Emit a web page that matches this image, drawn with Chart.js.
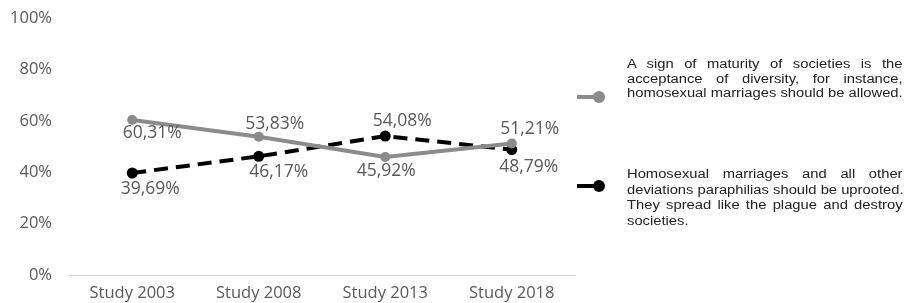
<!DOCTYPE html>
<html>
<head>
<meta charset="utf-8">
<script src="https://cdn.jsdelivr.net/npm/chart.js@4.4.1/dist/chart.umd.min.js"></script>
<style>
  html, body { margin: 0; padding: 0; background: #fff; }
  #wrap { position: relative; width: 908px; height: 303px; }
  #chart { position: absolute; left: 0; top: 0; }
  .legend { position: absolute; left: 627px; width: 224px; transform: scaleX(1.23); transform-origin: 0 0;
            font-family: "Liberation Sans", Arial, sans-serif; font-size: 12px; line-height: 15px; color: #222; }
  .legend div { text-align: justify; text-align-last: justify; white-space: nowrap; }
  .legend div.last { text-align-last: left; }
  .mk .ln { position: absolute; left: 577px; width: 22px; height: 4px; }
  .mk .dot { position: absolute; width: 12px; height: 12px; border-radius: 50%; }
</style>
</head>
<body>
<div id="wrap">
  <canvas id="chart" width="908" height="303"></canvas>
</div>
<script>
// data
const studies = ['Study 2003', 'Study 2008', 'Study 2013', 'Study 2018'];
const acceptDiversity = [60.31, 53.83, 45.92, 51.21];
const uprootParaphilias = [39.69, 46.17, 54.08, 48.79];
const yTicks = [0, 20, 40, 60, 80, 100];

const legendAccept = ['A sign of maturity of societies is the', 'acceptance of diversity, for instance,', 'homosexual marriages should be allowed.'];
const legendUproot = ['Homosexual marriages and all other', 'deviations paraphilias should be uprooted.', 'They spread like the plague and destroy', 'societies.'];

// where each value label sits relative to its point (dx, dy in px)
const acceptLabelPos = [[20, 13], [16, -13], [1, 14], [18, -14]];
const uprootLabelPos = [[18, 16], [20, 16], [17, -15], [17, 17]];

const GRAY = '#8b8b8b';
const TEXT = '#595959';
const FONT = '"Open Sans", sans-serif';

function fmt(v) {
  return v.toFixed(2).replace('.', ',') + '%';
}

const valueLabels = {
  id: 'valueLabels',
  afterDatasetsDraw(chart) {
    const ctx = chart.ctx;
    ctx.save();
    ctx.font = '17.5px ' + FONT;
    ctx.fillStyle = TEXT;
    ctx.textAlign = 'center';
    ctx.textBaseline = 'middle';
    chart.data.datasets.forEach((ds, i) => {
      const meta = chart.getDatasetMeta(i);
      meta.data.forEach((pt, j) => {
        const off = ds.labelPos[j];
        ctx.fillText(fmt(ds.data[j]), pt.x + off[0], pt.y + off[1]);
      });
    });
    ctx.restore();
  }
};

const ctx = document.getElementById('chart').getContext('2d');
const myChart = new Chart(ctx, {
  type: 'line',
  data: {
    labels: studies,
    datasets: [{
      label: legendAccept.join(' '),
      data: acceptDiversity,
      labelPos: acceptLabelPos,
      borderColor: GRAY,
      backgroundColor: GRAY,
      borderWidth: 4,
      pointRadius: 5,
      pointBorderWidth: 0,
      fill: false,
      tension: 0
    }, {
      label: legendUproot.join(' '),
      data: uprootParaphilias,
      labelPos: uprootLabelPos,
      borderColor: '#000',
      backgroundColor: '#000',
      borderWidth: 4,
      borderDash: [14, 8],
      pointRadius: 5.5,
      pointBorderWidth: 0,
      fill: false,
      tension: 0
    }]
  },
  options: {
    responsive: false,
    animation: false,
    layout: { padding: { left: 0, right: 333, top: 18, bottom: 0 } },
    plugins: {
      legend: { display: false },
      tooltip: { enabled: false }
    },
    scales: {
      x: {
        offset: true,
        grid: { display: false, drawTicks: false },
        border: { display: true, color: '#d9d9d9', width: 1 },
        ticks: { color: TEXT, font: { family: FONT, size: 16.5 }, padding: 8, maxRotation: 0 },
        afterFit: (axis) => { axis.paddingLeft = 0; axis.paddingRight = 0; axis.height = 28; }
      },
      y: {
        min: 0,
        max: 100,
        afterBuildTicks: (axis) => { axis.ticks = yTicks.map(v => ({ value: v })); },
        afterFit: (axis) => { axis.width = 69; axis.paddingTop = 0; axis.paddingBottom = 0; },
        grid: { display: false, drawTicks: false },
        border: { display: false },
        ticks: {
          color: TEXT,
          font: { family: FONT, size: 16.5 },
          padding: 17,
          callback: function(value) { return value + '%'; }
        }
      }
    }
  },
  plugins: [valueLabels]
});

// legend on the right, justified text like the original
const wrap = document.getElementById('wrap');
function addLegend(lines, top, lh, color, markY) {
  const box = document.createElement('div');
  box.className = 'legend';
  box.style.top = top + 'px';
  box.style.lineHeight = lh + 'px';
  lines.forEach((t, k) => {
    const d = document.createElement('div');
    d.textContent = t;
    if (k === lines.length - 1 && t.length < 20) d.className = 'last';
    box.appendChild(d);
  });
  wrap.appendChild(box);
  const mk = document.createElement('div');
  mk.className = 'mk';
  mk.innerHTML = '<div class="ln" style="top:' + (markY - 2) + 'px;background:' + color + '"></div>' +
                 '<div class="dot" style="left:593px;top:' + (markY - 6) + 'px;background:' + color + '"></div>';
  wrap.appendChild(mk);
}
addLegend(legendAccept, 57, 14.5, GRAY, 97);
addLegend(legendUproot, 167, 15.5, '#000', 186);
</script>
</body>
</html>
